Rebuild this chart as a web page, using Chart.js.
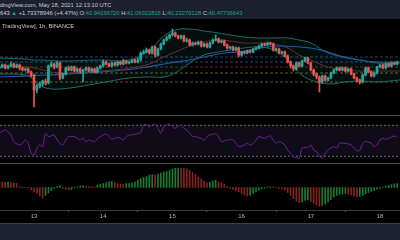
<!DOCTYPE html>
<html>
<head>
<meta charset="utf-8">
<script src="https://cdn.jsdelivr.net/npm/chart.js@4.4.1/dist/chart.umd.min.js"></script>
<style>
  html, body { margin: 0; padding: 0; background: #000; }
  #wrap { position: relative; width: 400px; height: 240px; overflow: hidden; background: #000; font-family: "Liberation Sans", Arial, sans-serif; }
  .hdr { position: absolute; left: 0; top: 0; width: 400px; height: 19px; background: #1c202c; }
  .ln { position: absolute; white-space: nowrap; font-size: 5.8px; line-height: 7px; color: #c8cbd3; }
  .t { color: #22a094; }
  .foot { position: absolute; left: 0; top: 223px; width: 400px; height: 17px; background: #1c2130; border-top: 1px solid #3b3f4b; }
  .sep { position: absolute; left: 0; width: 400px; height: 1px; background: #4a4a4a; }
  canvas { position: absolute; left: 0; }
</style>
</head>
<body>
<div id="wrap">
  <div class="hdr"></div>
  <div class="ln" style="left:-8.7px; top:2px;">TradingView.com, May 18, 2021 12:13:10 UTC</div>
  <div class="ln" style="left:0; top:10px;">643 <span class="t">▲</span> +1.73378946 (+4.47%) O:<span class="t">40.94196720</span> H:<span class="t">41.06022816</span> L:<span class="t">40.23270128</span> C:<span class="t">40.47736643</span></div>
  <canvas id="main" width="400" height="94" style="top:20px"></canvas>
  <div class="ln" style="left:2px; top:23px;">TradingView], 1h, BINANCE</div>
  <div class="sep" style="top:115px"></div>
  <canvas id="rsi" width="400" height="46" style="top:116px"></canvas>
  <div class="sep" style="top:163px"></div>
  <canvas id="macd" width="400" height="58" style="top:164px"></canvas>
  <div class="foot"></div>
</div>
<script>
// hourly candles, index 0..138
let opens = [39.9, 40.0, 40.2, 39.9, 40.1, 40.3, 40.0, 40.2, 39.9, 39.7,
    39.8, 39.5, 39.2, 37.7, 38.1, 38.3, 38.6, 38.4, 40.1, 40.3,
    40.0, 40.4, 38.9, 39.3, 39.9, 39.7, 40.0, 39.6, 39.8, 39.5,
    39.7, 39.9, 39.6, 39.8, 39.5, 39.9, 40.1, 40.5, 40.3, 40.1,
    40.4, 40.2, 40.5, 40.3, 40.6, 40.4, 40.5, 40.7, 40.5, 40.7,
    41.4, 41.5, 41.7, 41.4, 42.0, 41.2, 41.8, 42.3, 42.7, 42.9,
    43.2, 43.4, 43.1, 42.9, 43.1, 42.6, 42.7, 42.2, 42.4, 42.3,
    42.5, 42.1, 42.3, 42.0, 42.4, 42.7, 42.8, 42.5, 42.6, 42.2,
    41.9, 42.0, 41.7, 41.9, 41.2, 41.5, 41.4, 41.6, 41.5, 41.8,
    41.9, 42.1, 42.3, 42.2, 42.4, 42.3, 41.7, 41.8, 41.4, 41.5,
    41.1, 40.5, 40.1, 39.8, 40.4, 40.1, 40.6, 40.9, 40.4, 39.7,
    39.3, 39.0, 38.5, 39.1, 38.7, 38.9, 39.4, 39.7, 39.9, 39.7,
    39.9, 39.6, 39.8, 39.3, 38.9, 38.7, 38.5, 39.2, 39.9, 39.5,
    39.1, 39.4, 40.0, 40.2, 39.9, 40.3, 40.1, 40.4, 40.3];
let highs = [40.1, 40.3, 40.3, 40.2, 40.5, 40.4, 40.3, 40.3, 40.0, 39.9,
    39.9, 39.6, 39.3, 38.3, 38.5, 38.7, 38.8, 40.2, 40.5, 40.4,
    40.6, 40.5, 39.4, 40.0, 40.1, 40.1, 40.1, 39.9, 39.9, 39.8,
    40.0, 40.0, 39.9, 39.9, 40.0, 40.2, 40.7, 40.6, 40.4, 40.5,
    40.5, 40.6, 40.6, 40.8, 40.7, 40.6, 40.8, 40.8, 40.9, 41.5,
    41.7, 41.9, 41.8, 42.1, 42.1, 41.9, 42.4, 42.8, 43.1, 43.3,
    43.8, 43.5, 43.2, 43.2, 43.2, 42.9, 42.8, 42.5, 42.5, 42.6,
    42.6, 42.4, 42.4, 42.5, 42.8, 43.2, 42.9, 42.7, 42.7, 42.3,
    42.1, 42.1, 42.0, 42.0, 41.6, 41.6, 41.7, 41.7, 41.9, 42.0,
    42.2, 42.4, 42.4, 42.5, 42.5, 42.4, 41.9, 41.9, 41.6, 41.6,
    41.2, 40.6, 40.2, 40.5, 40.5, 40.7, 41.0, 41.0, 40.5, 39.8,
    39.4, 39.1, 39.2, 39.2, 39.0, 39.5, 39.8, 40.0, 40.0, 40.0,
    40.0, 39.9, 39.9, 39.4, 39.0, 38.8, 39.3, 40.0, 40.0, 39.6,
    39.5, 40.1, 40.3, 40.3, 40.4, 40.4, 40.5, 40.5, 40.6];
let lows = [39.8, 39.9, 39.8, 39.8, 40.0, 39.9, 39.9, 39.7, 39.6, 39.6,
    39.4, 39.0, 36.0, 37.4, 37.9, 38.1, 38.2, 38.3, 40.0, 39.8,
    39.9, 38.7, 38.8, 39.2, 39.6, 39.6, 39.5, 39.5, 39.4, 38.5,
    39.6, 39.5, 39.5, 39.4, 39.4, 39.8, 40.0, 40.2, 40.0, 40.0,
    40.1, 40.1, 40.2, 40.2, 40.3, 40.3, 40.4, 40.4, 40.4, 40.6,
    41.3, 41.4, 41.3, 41.3, 41.0, 41.1, 41.7, 42.2, 42.6, 42.8,
    43.1, 43.0, 42.8, 42.8, 42.5, 42.5, 42.1, 42.1, 42.2, 42.2,
    42.0, 42.0, 41.9, 41.9, 42.3, 42.6, 42.4, 42.4, 42.1, 41.8,
    41.8, 41.6, 41.6, 41.0, 41.1, 41.3, 41.3, 41.4, 41.4, 41.7,
    41.8, 42.0, 42.1, 42.1, 42.2, 41.6, 41.6, 41.3, 41.3, 41.0,
    40.4, 39.9, 39.6, 39.7, 40.0, 40.0, 40.5, 40.3, 39.6, 39.1,
    38.8, 37.5, 38.4, 38.6, 38.6, 38.8, 39.3, 39.6, 39.6, 39.6,
    39.5, 39.5, 39.2, 38.8, 38.5, 38.3, 38.4, 39.1, 39.4, 39.0,
    39.0, 39.3, 39.9, 39.8, 39.8, 40.0, 40.0, 40.2, 40.2];
let closes = [40.0, 40.2, 39.9, 40.1, 40.3, 40.0, 40.2, 39.9, 39.7, 39.8,
    39.5, 39.2, 37.7, 38.1, 38.3, 38.6, 38.4, 40.1, 40.3, 40.0,
    40.4, 38.9, 39.3, 39.9, 39.7, 40.0, 39.6, 39.8, 39.5, 39.7,
    39.9, 39.6, 39.8, 39.5, 39.9, 40.1, 40.5, 40.3, 40.1, 40.4,
    40.2, 40.5, 40.3, 40.6, 40.4, 40.5, 40.7, 40.5, 40.7, 41.4,
    41.5, 41.7, 41.4, 42.0, 41.2, 41.8, 42.3, 42.7, 42.9, 43.2,
    43.4, 43.1, 42.9, 43.1, 42.6, 42.7, 42.2, 42.4, 42.3, 42.5,
    42.1, 42.3, 42.0, 42.4, 42.7, 42.8, 42.5, 42.6, 42.2, 41.9,
    42.0, 41.7, 41.9, 41.2, 41.5, 41.4, 41.6, 41.5, 41.8, 41.9,
    42.1, 42.3, 42.2, 42.4, 42.3, 41.7, 41.8, 41.4, 41.5, 41.1,
    40.5, 40.1, 39.8, 40.4, 40.1, 40.6, 40.9, 40.4, 39.7, 39.3,
    39.0, 38.5, 39.1, 38.7, 38.9, 39.4, 39.7, 39.9, 39.7, 39.9,
    39.6, 39.8, 39.3, 38.9, 38.7, 38.5, 39.2, 39.9, 39.5, 39.1,
    39.4, 40.0, 40.2, 39.9, 40.3, 40.1, 40.4, 40.3, 40.5];

// bollinger bands (read at these candle indexes)
let bandIdx = [0, 9, 12, 15, 21, 35, 45, 52, 57, 61, 66, 71, 76, 80, 85, 90, 95, 100, 104, 108, 114, 120, 125, 131, 139];
let bbUpper = [40.9, 40.8, 40.7, 40.7, 40.6, 40.7, 40.7, 41.7, 43.1, 43.7, 43.8, 43.6, 43.4, 43.2, 43.0, 42.9, 42.9, 42.9, 42.7, 42.4, 41.4, 41.0, 40.7, 40.5, 40.5];
let bbLower = [39.3, 39.2, 38.7, 38.0, 37.8, 38.4, 38.9, 39.0, 39.0, 39.4, 40.4, 41.2, 41.5, 41.7, 41.9, 42.0, 41.7, 40.7, 39.4, 38.7, 38.3, 38.5, 38.6, 38.5, 38.7];
let bbBasis = [40.1, 40.0, 39.9, 39.7, 39.4, 39.6, 39.9, 40.3, 41.0, 41.5, 42.1, 42.5, 42.7, 42.6, 42.4, 42.4, 42.3, 41.9, 41.2, 40.7, 40.0, 39.7, 39.6, 39.6, 39.6];

// slow moving average (blue)
let maIdx = [0, 16, 35, 49, 59, 66, 71, 78, 83, 91, 97, 108, 114, 119, 125, 131, 139];
let maVal = [39.0, 39.2, 39.5, 39.9, 40.4, 40.7, 41.0, 41.4, 41.5, 41.9, 42.1, 41.9, 41.5, 41.0, 40.7, 40.4, 40.4];

// horizontal levels
let levels = [41.0, 40.5, 40.0, 39.4, 38.5];
let levelColors = ['#26457c', '#26457c', '#6e2424', '#6b5a1e', '#6b5a1e'];

// rsi
let rsiIdx = [0, 2, 4, 5, 7, 8, 9, 10, 11, 12, 13, 14, 15, 16, 17, 19, 20, 21, 22, 23,
    24, 26, 27, 28, 29, 30, 31, 33, 34, 35, 36, 37, 38, 39, 41, 42, 43, 44, 45, 46,
    48, 49, 50, 51, 52, 53, 54, 55, 56, 57, 58, 59, 60, 61, 63, 64, 65, 66, 67, 68,
    70, 71, 72, 73, 75, 76, 77, 79, 81, 82, 83, 85, 86, 87, 88, 89, 90, 92, 93, 94,
    95, 96, 97, 99, 100, 101, 102, 103, 104, 105, 107, 108, 109, 110, 111, 112, 113, 114, 116, 117,
    118, 120, 122, 123, 124, 125, 126, 127, 129, 130, 131, 132, 133, 134, 135, 137, 138];
let rsiVal = [59.6, 63.9, 57.5, 48.9, 44.6, 46.7, 51.0, 46.7, 33.8, 31.7, 40.3, 44.6, 42.4, 59.6, 55.3, 57.5, 51.0, 46.7, 44.6, 51.0,
    55.3, 55.3, 53.2, 51.0, 53.2, 48.9, 51.0, 48.9, 53.2, 55.3, 57.5, 58.8, 55.3, 51.9, 54.5, 53.2, 51.0, 55.3, 57.5, 57.5,
    59.6, 60.5, 70.4, 70.4, 68.2, 70.4, 71.7, 66.1, 59.6, 68.2, 70.4, 71.7, 68.2, 66.1, 70.4, 66.1, 63.9, 59.6, 55.3, 55.3,
    53.2, 51.0, 55.3, 57.5, 58.8, 55.3, 48.9, 51.0, 51.0, 46.7, 42.4, 44.6, 46.7, 44.6, 46.7, 51.0, 55.3, 53.2, 55.3, 56.2,
    51.0, 46.7, 48.9, 44.6, 38.1, 33.8, 29.5, 28.2, 27.4, 40.3, 41.6, 44.6, 38.1, 36.0, 29.5, 27.4, 33.8, 38.1, 42.4, 40.3,
    46.7, 46.7, 44.6, 40.3, 37.3, 37.3, 46.7, 48.9, 46.7, 42.4, 44.6, 51.0, 53.2, 51.9, 53.2, 56.2, 54.5];

// macd histogram
let macdHist = [0.057, 0.055, 0.050, 0.055, 0.048, 0.045, 0.040, 0.008, 0.005, 0.003,
    -0.005, -0.025, -0.045, -0.060, -0.085, -0.105, -0.080, -0.055, -0.030, -0.010,
    0.010, 0.020, -0.010, -0.020, -0.025, -0.020, -0.005, 0.005, 0.015, 0.020,
    0.015, 0.010, 0.008, 0.005, 0.023, 0.033, 0.040, 0.047, 0.057, 0.060,
    0.050, 0.040, 0.035, 0.033, 0.040, 0.040, 0.045, 0.057, 0.073, 0.090,
    0.100, 0.110, 0.125, 0.130, 0.125, 0.135, 0.145, 0.155, 0.160, 0.170,
    0.185, 0.192, 0.195, 0.192, 0.190, 0.185, 0.170, 0.150, 0.130, 0.105,
    0.085, 0.065, 0.047, 0.055, 0.065, 0.073, 0.057, 0.047, 0.033, 0.010,
    -0.010, -0.020, -0.033, -0.043, -0.060, -0.077, -0.087, -0.077, -0.060, -0.043,
    -0.027, -0.015, -0.008, 0.005, 0.008, 0.005, 0.003, -0.010, -0.015, -0.027,
    -0.050, -0.080, -0.110, -0.135, -0.150, -0.145, -0.130, -0.125, -0.140, -0.160,
    -0.175, -0.190, -0.180, -0.165, -0.145, -0.120, -0.095, -0.080, -0.070, -0.065,
    -0.060, -0.065, -0.075, -0.085, -0.093, -0.090, -0.080, -0.065, -0.050, -0.040,
    -0.030, -0.020, -0.010, 0.005, 0.015, 0.023, 0.030, 0.037, 0.040];

// time axis
let tickIdx = [12, 36, 60, 84, 108, 132];
let tickLabels = ['13', '14', '15', '16', '17', '18'];

const xMin = 0.2, xMax = 138.95;
const upColor = '#26a69a', downColor = '#ef5350';

function baseOptions(yMin, yMax) {
    return {
        responsive: false,
        animation: false,
        devicePixelRatio: 1,
        layout: { padding: 0 },
        plugins: { legend: { display: false }, tooltip: { enabled: false } },
        elements: { point: { radius: 0 } },
        scales: {
            x: { type: 'linear', min: xMin, max: xMax, offset: false, display: false },
            y: { type: 'linear', min: yMin, max: yMax, display: false }
        }
    };
}

function pts(xs, ys) {
    return xs.map((x, k) => ({ x: x, y: ys[k] }));
}

function makeMain() {
    let candleColors = closes.map((c, i) => c >= opens[i] ? upColor : downColor);
    let datasets = [
        {
            type: 'bar', grouped: false, order: 1,
            data: closes.map((c, i) => ({ x: i, y: [lows[i], highs[i]] })),
            backgroundColor: candleColors, barThickness: 1
        },
        {
            type: 'bar', grouped: false, order: 0,
            data: closes.map((c, i) => ({ x: i, y: [opens[i], c] })),
            backgroundColor: candleColors, barThickness: 2, minBarLength: 1
        },
        {
            type: 'line', order: 6, data: pts(bandIdx, bbUpper),
            borderColor: '#1d6d64', borderWidth: 1, tension: 0.4,
            fill: '+1', backgroundColor: 'rgba(38,166,154,0.09)'
        },
        {
            type: 'line', order: 6, data: pts(bandIdx, bbLower),
            borderColor: '#1d6d64', borderWidth: 1, tension: 0.4, fill: false
        },
        {
            type: 'line', order: 5, data: pts(bandIdx, bbBasis),
            borderColor: '#6e2a2a', borderWidth: 1, tension: 0.4, fill: false
        },
        {
            type: 'line', order: 4, data: pts(maIdx, maVal),
            borderColor: '#1f5aa6', borderWidth: 1.2, tension: 0.4, fill: false
        }
    ];
    levels.forEach((v, k) => {
        datasets.push({
            type: 'line', order: 8,
            data: [{ x: xMin, y: v }, { x: xMax, y: v }],
            borderColor: levelColors[k], borderWidth: 1, borderDash: [3, 2], fill: false
        });
    });
    new Chart(document.getElementById('main'), {
        type: 'bar',
        data: { datasets: datasets },
        options: baseOptions(35.3, 44.7)
    });
}

function makeRsi() {
    let opts = baseOptions(22.6, 82);
    new Chart(document.getElementById('rsi'), {
        type: 'line',
        data: {
            datasets: [
                {
                    order: 0, data: pts(rsiIdx, rsiVal),
                    borderColor: '#6f1d92', borderWidth: 1, tension: 0.3, fill: false
                },
                {
                    order: 2, data: [{ x: xMin, y: 70 }, { x: xMax, y: 70 }],
                    borderColor: '#6b6b6b', borderWidth: 1, borderDash: [2, 2],
                    fill: '+1', backgroundColor: 'rgba(126,87,194,0.13)'
                },
                {
                    order: 2, data: [{ x: xMin, y: 30 }, { x: xMax, y: 30 }],
                    borderColor: '#6b6b6b', borderWidth: 1, borderDash: [2, 2], fill: false
                }
            ]
        },
        options: opts
    });
}

function makeMacd() {
    let colors = macdHist.map((v, i) => (i > 0 && v >= macdHist[i - 1]) ? '#1a7a30' : '#862222');
    let opts = baseOptions(-0.225, 0.235);
    opts.scales.x = {
        type: 'linear', min: xMin, max: xMax, offset: false, display: true, position: 'bottom',
        grid: { display: true, drawOnChartArea: false, drawTicks: true, tickLength: 2, color: '#5a5a5a' },
        border: { display: true, color: '#3a3a3a', width: 1 },
        ticks: {
            color: '#b2b5be', padding: 1, autoSkip: false, maxRotation: 0,
            font: { size: 6, family: 'Liberation Sans' },
            callback: (v, k) => tickLabels[k]
        },
        afterBuildTicks: (axis) => { axis.ticks = tickIdx.map(v => ({ value: v })); },
        afterFit: (axis) => { axis.height = 12; }
    };
    new Chart(document.getElementById('macd'), {
        type: 'bar',
        data: {
            datasets: [{
                data: macdHist.map((v, i) => ({ x: i, y: v })),
                backgroundColor: colors, barThickness: 1, grouped: false
            }]
        },
        options: opts
    });
}

makeMain();
makeRsi();
makeMacd();
</script>
</body>
</html>
